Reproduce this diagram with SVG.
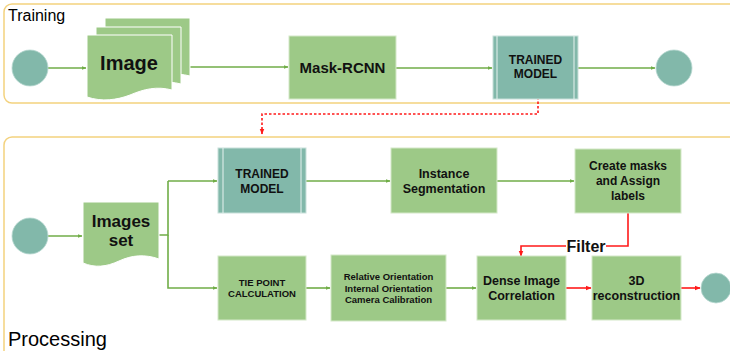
<svg xmlns="http://www.w3.org/2000/svg" width="730" height="351" viewBox="0 0 730 351">
  <style>
    .frame { fill: none; stroke: #F3D27E; stroke-width: 1.5; }
    .box { fill: #9DC987; stroke: #D4E8C8; stroke-width: 1; }
    .model { fill: #82B8AA; stroke: #C8E0DA; stroke-width: 1; }
    .inner { stroke: #E6F2EF; stroke-width: 1; }
    .dot { fill: #82B8AA; stroke: #B8D8D0; stroke-width: 0.8; }
    .doc { fill: #9DC987; stroke: #FFFFFF; stroke-width: 1; }
    .flow { fill: none; stroke: #70AD47; stroke-width: 1.6; marker-end: url(#ga); }
    .link { fill: none; stroke: #70AD47; stroke-width: 1.6; }
    .red { fill: none; stroke: #FF1A1A; stroke-width: 1.6; }
    .title { font-family: "Liberation Sans", Arial, sans-serif; fill: #000; }
    .lbl { font-family: "Liberation Sans", Arial, sans-serif; font-weight: bold; fill: #111; text-anchor: middle; }
  </style>
  <defs>
    <marker id="ga" viewBox="0 0 10 10" refX="9" refY="5" markerWidth="5" markerHeight="5" orient="auto" markerUnits="userSpaceOnUse">
      <path d="M0,1 L10,5 L0,9 Z" fill="#70AD47"/>
    </marker>
    <marker id="ra" viewBox="0 0 10 10" refX="9" refY="5" markerWidth="6" markerHeight="6" orient="auto" markerUnits="userSpaceOnUse">
      <path d="M0,1 L10,5 L0,9 Z" fill="#FF1A1A"/>
    </marker>
  </defs>

  <!-- section frames -->
  <rect class="frame" x="4" y="4" width="740" height="99" rx="8"/>
  <text class="title" x="8" y="21" font-size="16">Training</text>
  <rect class="frame" x="4" y="137" width="740" height="230" rx="8"/>
  <text class="title" x="8" y="346" font-size="20">Processing</text>

  <!-- connectors -->
  <g id="connectors">
    <line class="flow" x1="48" y1="68" x2="86" y2="68"/>
    <line class="flow" x1="180" y1="67" x2="288" y2="67"/>
    <line class="flow" x1="396" y1="68" x2="492" y2="68"/>
    <line class="flow" x1="578" y1="68" x2="655" y2="68"/>
    <path d="M538,88 V114 H262 V134" fill="none" stroke="#FF1A1A" stroke-width="1.6" stroke-dasharray="2.5,2" marker-end="url(#ra)"/>

    <line class="flow" x1="48" y1="236" x2="82" y2="236"/>
    <path class="link" d="M159,235 H168 V181"/>
    <path class="flow" d="M168,181 H217"/>
    <path class="flow" d="M168,235 V288 H217"/>
    <line class="flow" x1="306" y1="181" x2="390" y2="181"/>
    <line class="flow" x1="497" y1="181" x2="574" y2="181"/>
    <line class="flow" x1="306" y1="288" x2="330" y2="288"/>
    <line class="flow" x1="446" y1="288" x2="476" y2="288"/>
    <path class="red" d="M628,213 V246 H606"/>
    <path class="red" d="M566,246 H521 V256" marker-end="url(#ra)"/>
    <line class="red" x1="566" y1="288" x2="591" y2="288" marker-end="url(#ra)"/>
    <line class="red" x1="681" y1="288" x2="700" y2="288" marker-end="url(#ra)"/>
    <text class="lbl" x="586" y="252" font-size="16">Filter</text>
  </g>

  <!-- training row -->
  <g id="train-start"><circle class="dot" cx="30" cy="68" r="18"/></g>
  <g id="image-stack">
    <path class="doc" d="M105,18 H190 V76 C175,72 162,75 150,80 C138,85 122,86 105,83 Z"/>
    <path class="doc" d="M96,27 H181 V84 C166,80 153,83 141,88 C129,93 113,94 96,91 Z"/>
    <path class="doc" d="M87,35 H172 V90 C157,86 144,89 130,95 C117,100 102,102 87,97 Z"/>
    <text class="lbl" x="129" y="70" font-size="20">Image</text>
  </g>
  <g id="mask-rcnn">
    <rect class="box" x="289" y="36" width="107" height="63"/>
    <text class="lbl" x="342.5" y="73" font-size="15">Mask-RCNN</text>
  </g>
  <g id="train-model">
    <rect class="model" x="493" y="36" width="85" height="63"/>
    <line class="inner" x1="497" y1="36" x2="497" y2="99"/>
    <line class="inner" x1="574" y1="36" x2="574" y2="99"/>
    <text class="lbl" x="535.5" y="64" font-size="12">TRAINED</text>
    <text class="lbl" x="535.5" y="78" font-size="12">MODEL</text>
  </g>
  <g id="train-end"><circle class="dot" cx="674" cy="68" r="18"/></g>

  <!-- processing rows -->
  <g id="proc-start"><circle class="dot" cx="30" cy="236" r="18"/></g>
  <g id="images-set">
    <path class="doc" d="M83,202 H159 V259 C145,254 132,255 119,261 C106,267 95,268 83,263 Z"/>
    <text class="lbl" x="121" y="227" font-size="17">Images</text>
    <text class="lbl" x="121" y="246" font-size="17">set</text>
  </g>
  <g id="proc-model">
    <rect class="model" x="218" y="148" width="88" height="65"/>
    <line class="inner" x1="223" y1="148" x2="223" y2="213"/>
    <line class="inner" x1="301" y1="148" x2="301" y2="213"/>
    <text class="lbl" x="262" y="178" font-size="12">TRAINED</text>
    <text class="lbl" x="262" y="193" font-size="12">MODEL</text>
  </g>
  <g id="instance-seg">
    <rect class="box" x="391" y="148" width="106" height="65"/>
    <text class="lbl" x="444" y="178" font-size="12.5" font-weight="normal">Instance</text>
    <text class="lbl" x="444" y="193" font-size="12.5" font-weight="normal">Segmentation</text>
  </g>
  <g id="create-masks">
    <rect class="box" x="575" y="149" width="106" height="64"/>
    <text class="lbl" x="628" y="170" font-size="12">Create masks</text>
    <text class="lbl" x="628" y="185" font-size="12">and Assign</text>
    <text class="lbl" x="628" y="200" font-size="12">labels</text>
  </g>
  <g id="tie-point">
    <rect class="box" x="218" y="256" width="88" height="64"/>
    <text class="lbl" x="262" y="286" font-size="9.5">TIE POINT</text>
    <text class="lbl" x="262" y="297" font-size="9.5">CALCULATION</text>
  </g>
  <g id="orientation">
    <rect class="box" x="331" y="255" width="115" height="66"/>
    <text class="lbl" x="388.5" y="280" font-size="9.5">Relative Orientation</text>
    <text class="lbl" x="388.5" y="292" font-size="9.5">Internal Orientation</text>
    <text class="lbl" x="388.5" y="303" font-size="9.5">Camera Calibration</text>
  </g>
  <g id="dense-corr">
    <rect class="box" x="477" y="256" width="89" height="64"/>
    <text class="lbl" x="521.5" y="285" font-size="12.5">Dense Image</text>
    <text class="lbl" x="521.5" y="300" font-size="12.5">Correlation</text>
  </g>
  <g id="recon-3d">
    <rect class="box" x="592" y="256" width="89" height="64"/>
    <text class="lbl" x="636.5" y="285" font-size="12.5">3D</text>
    <text class="lbl" x="636.5" y="300" font-size="12.5">reconstruction</text>
  </g>
  <g id="proc-end"><circle class="dot" cx="716" cy="288" r="15"/></g>
</svg>
